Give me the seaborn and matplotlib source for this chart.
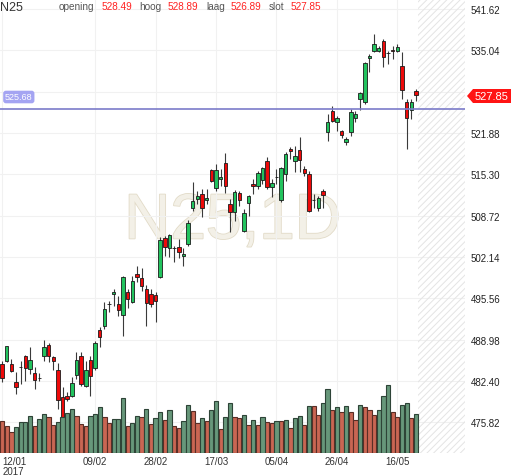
import numpy as np
import matplotlib
matplotlib.use("Agg")
import matplotlib.pyplot as plt
import matplotlib.patches as mpatches
import matplotlib.patheffects as pe
import seaborn as sns

# daily candles N25, 12/01/2017 - 22/05/2017
opens = [485.09, 485.57, 485.09, 482.22, 484.61, 486.36, 484.29, 483.65, 482.90, 486.36,
         488.11, 486.20, 484.13, 479.83, 479.99, 479.99, 483.34, 486.36, 481.58, 485.72,
         484.45, 490.50, 491.14, 494.64, 496.23, 494.64, 492.89, 496.55, 494.96, 499.42,
         498.78, 497.03, 496.23, 496.07, 498.94, 505.15, 503.56, 503.56, 503.72, 502.28,
         504.20, 509.93, 511.36, 512.16, 511.20, 515.98, 513.11, 514.55, 517.10, 510.56,
         509.29, 512.32, 506.27, 510.72, 513.75, 513.43, 514.39, 517.41, 513.27, 514.87,
         511.20, 515.34, 519.32, 517.41, 519.17, 516.14, 515.34, 511.20, 509.93, 512.63,
         522.03, 525.38, 523.62, 522.19, 520.44, 522.03, 524.26, 527.29, 526.81, 533.81,
         534.93, 534.93, 536.52, 534.61, 535.09, 534.93, 532.54, 526.81, 525.53, 528.49]
highs = [485.57, 488.00, 485.88, 483.81, 485.57, 486.52, 487.79, 484.61, 483.65, 488.91,
         488.43, 486.36, 485.25, 481.42, 480.63, 483.02, 487.00, 487.00, 485.57, 486.36,
         488.75, 490.98, 494.96, 495.12, 497.03, 495.91, 499.10, 497.03, 499.10, 500.69,
         500.37, 497.67, 497.03, 496.55, 505.31, 505.47, 505.79, 503.88, 504.99, 503.56,
         508.02, 514.07, 512.63, 512.95, 512.95, 516.14, 516.94, 516.14, 518.69, 511.36,
         512.79, 512.63, 509.77, 512.00, 514.55, 515.82, 516.46, 518.05, 514.55, 516.14,
         516.46, 518.85, 519.64, 519.80, 521.23, 516.62, 515.82, 512.16, 511.84, 512.95,
         524.90, 526.17, 524.58, 522.35, 521.23, 525.69, 525.38, 528.40, 533.18, 534.45,
         537.64, 535.73, 536.84, 534.93, 535.73, 536.04, 534.77, 527.29, 527.29, 528.89]
lows = [482.22, 485.41, 483.81, 480.31, 481.90, 482.38, 483.49, 481.11, 482.38, 485.57,
        485.41, 484.13, 477.92, 476.01, 479.19, 479.83, 482.70, 481.58, 481.42, 479.99,
        484.13, 487.79, 490.66, 493.37, 494.32, 492.73, 489.55, 494.00, 494.80, 498.14,
        496.71, 491.14, 494.16, 491.78, 498.80, 502.28, 502.12, 501.33, 501.97, 500.69,
        503.88, 509.45, 510.56, 508.50, 510.56, 514.07, 512.63, 513.43, 512.32, 506.11,
        507.86, 510.25, 506.11, 508.65, 512.16, 512.95, 513.75, 512.95, 511.68, 513.75,
        510.88, 514.23, 517.73, 515.66, 515.66, 515.02, 509.29, 509.93, 509.45, 509.93,
        520.60, 523.62, 522.19, 521.08, 519.96, 521.39, 523.62, 525.53, 526.49, 531.59,
        534.80, 534.77, 532.38, 532.86, 533.66, 534.77, 527.29, 519.32, 524.10, 526.89]
closes = [482.86, 487.95, 483.97, 481.42, 484.61, 484.45, 485.72, 482.54, 482.82, 487.79,
          486.36, 485.57, 479.35, 476.65, 479.51, 482.06, 485.72, 481.90, 484.13, 483.18,
          488.43, 489.39, 493.85, 494.64, 496.55, 493.69, 498.94, 495.44, 498.30, 498.94,
          497.51, 494.80, 494.64, 495.12, 504.83, 503.72, 505.63, 503.56, 502.92, 502.60,
          507.54, 511.04, 511.84, 509.93, 511.52, 514.23, 515.98, 514.87, 513.43, 509.29,
          512.48, 511.20, 509.13, 511.84, 513.43, 515.50, 516.30, 513.27, 513.91, 514.87,
          516.30, 518.53, 519.01, 518.21, 517.57, 515.50, 509.45, 511.20, 511.52, 512.00,
          523.62, 523.78, 524.26, 521.55, 520.92, 525.22, 524.90, 528.24, 533.02, 534.13,
          536.04, 535.41, 533.97, 534.61, 534.93, 535.57, 528.72, 524.26, 526.81, 527.85]

# volume (relative units) and its colour
volume = [32, 27, 21, 26, 31, 31, 37, 27, 34, 39, 36, 28, 31, 36, 40, 44, 37, 29, 27, 37,
          39, 46, 36, 30, 34, 34, 55, 27, 30, 37, 36, 44, 29, 35, 41, 33, 43, 27, 25, 32,
          48, 42, 30, 35, 32, 43, 52, 24, 36, 50, 36, 35, 38, 28, 33, 28, 36, 31, 30, 32,
          32, 33, 25, 35, 37, 28, 47, 47, 38, 50, 64, 43, 46, 41, 47, 41, 33, 48, 46, 43,
          38, 43, 57, 68, 41, 36, 48, 50, 35, 39]
vol_dir = list("RRRGGGGRGGRRGGGGRRRGGGRRGGGRGGRGRGGRGRRGGRRGRGGRGGRRGR"
               "GRGRRGRGRGGRGRRGGRGRGRRGRRRGGGRRGGRG")

price_ticks = [475.82, 482.40, 488.98, 495.56, 502.14, 508.72, 515.30, 521.88, 528.46, 535.04, 541.62]
date_pos = [0, 20, 33, 46, 59, 72, 85]
date_labels = ["12/01\n2017", "09/02", "28/02", "17/03", "05/04", "26/04", "16/05"]
ref_level = 525.68

sns.set_style("white")
plt.rcParams['font.family'] = ['Liberation Sans', 'DejaVu Sans']
plt.rcParams['hatch.linewidth'] = 0.7

W, H = 512, 477
fig = plt.figure(figsize=(W / 100, H / 100), dpi=100)
ax = fig.add_axes([0, 23 / H, 465 / W, 454 / H])

idx = np.arange(len(opens))
o = np.array(opens); c = np.array(closes)
hi = np.array(highs); lo = np.array(lows)

# volume on a twin axis
ax2 = ax.twinx()
ax2.set_zorder(ax.get_zorder() + 1)
ax2.patch.set_visible(False)
sns.barplot(x=idx, y=volume, hue=vol_dir, palette={"G": "#5f9f78", "R": "#dc5940"},
            native_scale=True, dodge=False, legend=False, width=0.92, ax=ax2,
            linewidth=0.8)
for p in ax2.patches:
    fc = p.get_facecolor()
    p.set_edgecolor((fc[0] * 0.45, fc[1] * 0.45, fc[2] * 0.45, 1))
ax2.set_ylim(0, 454)
ax2.set_yticks([])
ax2.set_ylabel("")
ax2.set_xlabel("")
for s in ax2.spines.values():
    s.set_visible(False)

# candles
body_col = np.where(c >= o, "#22c35e", "#ee0a0a")
ax.vlines(idx, lo, hi, color="#3a3a3a", lw=0.8, zorder=3)
ax.bar(idx, np.abs(c - o), bottom=np.minimum(o, c), width=0.74, color=body_col,
       edgecolor="#1a1a1a", linewidth=0.6, zorder=4)

ax.set_xlim(-0.45, 99.55)
ax.set_ylim(470.92, 543.21)

# future zone
ax.axvspan(89.5, 99.55, facecolor="none", edgecolor="#e4e4e4", hatch="/////", lw=0, zorder=1)

ax.axhline(ref_level, color="#7b7bc9", lw=1.2, zorder=5)

ax.text(0.5, 0.51, "N25,1D", transform=ax.transAxes, ha="center", va="center",
        fontsize=46, color="#f3f0e7", zorder=0.5,
        path_effects=[pe.withStroke(linewidth=1.2, foreground="#e2dbc8")])

ax.yaxis.tick_right()
ax.set_yticks(price_ticks)
# 528.46 sits under the last-price tag
ax.set_yticklabels(["" if t == 528.46 else f"{t:.2f}" for t in price_ticks])
ax.set_xticks(date_pos)
ax.set_xticklabels(date_labels)
for lab in ax.get_xticklabels():
    lab.set_linespacing(0.95)
ax.get_xticklabels()[0].set_horizontalalignment("left")
ax.tick_params(axis="y", length=0, pad=4, labelsize=7, labelcolor="#222222")
ax.tick_params(axis="x", length=0, pad=2.5, labelsize=7, labelcolor="#333333")
ax.grid(True, color="#f1f1f1", lw=0.8)
ax.set_axisbelow(True)
for s in ax.spines.values():
    s.set_visible(False)

# header
fig.text(0 / W, 1 - 11 / H, "N25", fontsize=9, color="#333333", va="baseline")
hdr = [(59, "opening", "#555555"), (102, "528.49", "#ff2222"),
       (139, "hoog", "#555555"), (168, "528.89", "#ff2222"),
       (206, "laag", "#555555"), (231, "526.89", "#ff2222"),
       (269, "slot", "#555555"), (291, "527.85", "#ff2222")]
for x, t, col in hdr:
    fig.text(x / W, 1 - 9.5 / H, t, fontsize=7.2, color=col, va="baseline")

# price labels
fig.text(5 / W, 1 - 98 / H, f"{ref_level:.2f}", fontsize=6.5, color="white", va="center",
         bbox=dict(boxstyle="round,pad=0.2,rounding_size=0.3", fc="#a4a4f2", ec="none"))
tag = mpatches.Polygon([(467 / W, 1 - 97 / H), (473 / W, 1 - 90 / H), (511 / W, 1 - 90 / H),
                        (511 / W, 1 - 104 / H), (473 / W, 1 - 104 / H)],
                       closed=True, transform=fig.transFigure, fc="#ff1414", ec="none")
fig.patches.append(tag)
fig.text(475 / W, 1 - 97 / H, f"{closes[-1]:.2f}", fontsize=8, color="white", va="center")

fig.savefig("out.png", dpi=100)
